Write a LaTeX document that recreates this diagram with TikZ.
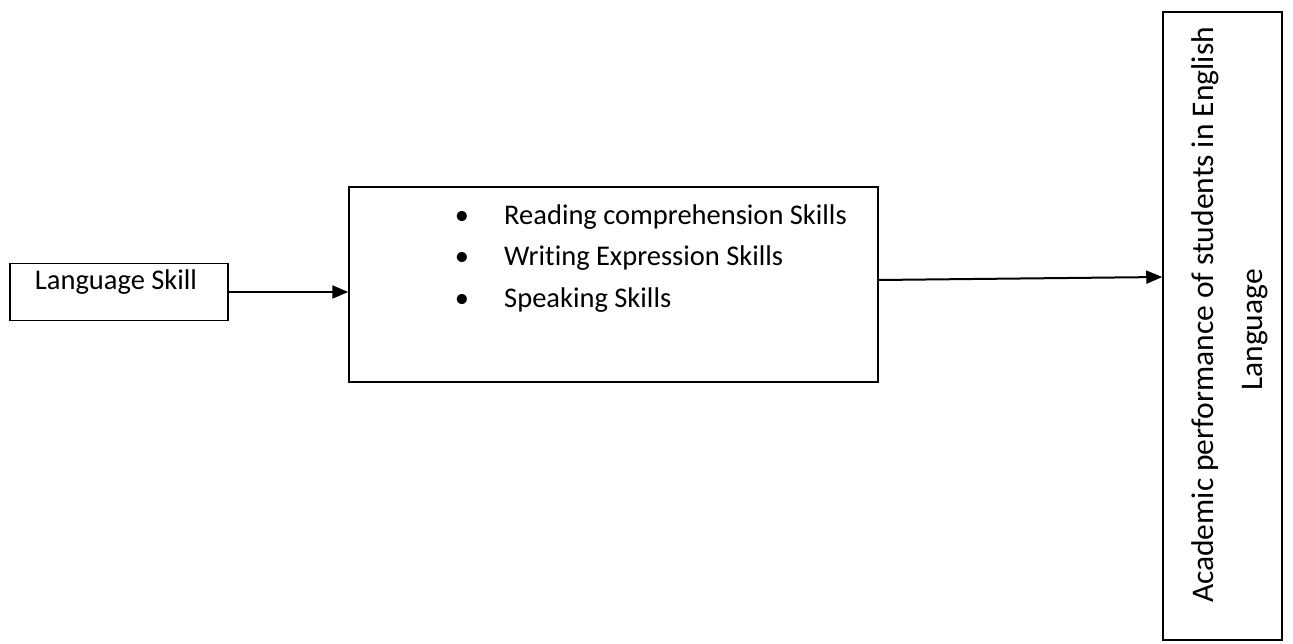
\documentclass[tikz,border=0pt]{standalone}
\usepackage{fontspec}
\setmainfont{Carlito}[Ligatures=NoCommon]
\usetikzlibrary{arrows.meta}
\begin{document}
\begin{tikzpicture}[x=1pt,y=-1pt,
  box/.style={draw=black,line width=1.5pt,inner sep=0pt},
  txt/.style={font=\fontsize{28.5}{34}\selectfont,inner sep=0pt},
  rtxt/.style={font=\fontsize{31.5}{38}\selectfont,inner sep=0pt,rotate=90},
  conn/.style={line width=2pt,-{Triangle[length=16pt,width=13pt]}}]
\useasboundingbox (0,0) rectangle (1293,644);
% boxes
\node[box,minimum width=218pt,minimum height=57pt] (ls) at (119,292) {};
\node[box,minimum width=529pt,minimum height=195pt] (mid) at (613.5,284.5) {};
\node[box,minimum width=119pt,minimum height=628pt] (ap) at (1222.5,326) {};
% texts
\node[txt,anchor=base] (lst) at (116,290) {Language Skill};
\node[txt,anchor=base] (d1) at (462,225) {\textbullet};
\node[txt,anchor=base west] (b1) at (504,225) {Reading comprehension Skills};
\node[txt,anchor=base] (d2) at (462,266) {\textbullet};
\node[txt,anchor=base west] (b2) at (504,266) {Writing Expression Skills};
\node[txt,anchor=base] (d3) at (462,308) {\textbullet};
\node[txt,anchor=base west] (b3) at (504,308) {Speaking Skills};
\node[rtxt] (ap1) at (1205,315) {Academic performance of students in English};
\node[rtxt] (ap2) at (1255,330) {Language};
% connectors
\draw[conn] (ls.east) -- (mid.west |- ls.east);
\draw[conn] ([yshift=4.5pt]mid.east) -- ([yshift=49pt]ap.west);
\end{tikzpicture}
\end{document}
